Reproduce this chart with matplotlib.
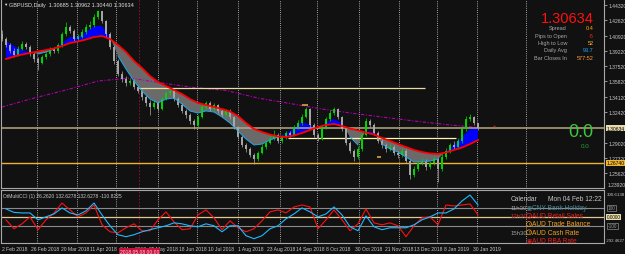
import numpy as np
import matplotlib
matplotlib.use('Agg')
import matplotlib.pyplot as plt
from matplotlib import transforms

plt.rcParams['font.family'] = ['Liberation Sans', 'DejaVu Sans']

# ---------------- data ----------------
# one candle per sample (about two trading days each)
CLOSES = [
    1.4054, 1.3987, 1.3920, 1.3876, 1.3942, 1.3998, 1.3965, 1.3887, 1.3831, 1.3787,
    1.3853, 1.3887, 1.3942, 1.3920, 1.3987, 1.4109, 1.4187, 1.4143, 1.4054, 1.4076,
    1.4132, 1.4187, 1.4209, 1.4299, 1.4365, 1.4254, 1.4109, 1.3965, 1.3809, 1.3664,
    1.3609, 1.3564, 1.3586, 1.3520, 1.3475, 1.3408, 1.3342, 1.3297, 1.3342, 1.3275,
    1.3386, 1.3453, 1.3475, 1.3386, 1.3319, 1.3253, 1.3208, 1.3141, 1.3097, 1.3186,
    1.3297, 1.3342, 1.3275, 1.3319, 1.3253, 1.3208, 1.3253, 1.3186, 1.3074, 1.2963,
    1.2874, 1.2830, 1.2763, 1.2719, 1.2785, 1.2852, 1.2897, 1.2941, 1.2986, 1.2919,
    1.2963, 1.3008, 1.2986, 1.3074, 1.3119, 1.3186, 1.3275, 1.3097, 1.2986, 1.2941,
    1.3074, 1.3164, 1.3230, 1.3275, 1.3186, 1.3052, 1.2897, 1.2808, 1.2741, 1.2830,
    1.2986, 1.3141, 1.3097, 1.3008, 1.2919, 1.2874, 1.2830, 1.2852, 1.2785, 1.2763,
    1.2808, 1.2696, 1.2540, 1.2607, 1.2674, 1.2696, 1.2629, 1.2674, 1.2719, 1.2607,
    1.2741, 1.2808, 1.2874, 1.2852, 1.2919, 1.3052, 1.3164, 1.3186, 1.3119, 1.3063,
]
FIRST_OPEN = 1.4110
HIGHS = [
    1.4150, 1.4080, 1.4010, 1.3950, 1.3975, 1.4035, 1.4025, 1.3985, 1.3905, 1.3850,
    1.3880, 1.3930, 1.3970, 1.3965, 1.4010, 1.4130, 1.4240, 1.4210, 1.4160, 1.4110,
    1.4160, 1.4220, 1.4250, 1.4330, 1.4377, 1.4370, 1.4270, 1.4130, 1.3990, 1.3830,
    1.3700, 1.3640, 1.3620, 1.3610, 1.3545, 1.3500, 1.3430, 1.3370, 1.3380, 1.3365,
    1.3410, 1.3475, 1.3500, 1.3495, 1.3410, 1.3340, 1.3275, 1.3230, 1.3160, 1.3210,
    1.3320, 1.3365, 1.3360, 1.3345, 1.3335, 1.3275, 1.3280, 1.3270, 1.3200, 1.3090,
    1.2980, 1.2900, 1.2850, 1.2790, 1.2810, 1.2880, 1.2930, 1.2980, 1.3040, 1.3005,
    1.2990, 1.3030, 1.3030, 1.3100, 1.3150, 1.3215, 1.3300, 1.3290, 1.3115, 1.3010,
    1.3095, 1.3190, 1.3260, 1.3300, 1.3290, 1.3200, 1.3070, 1.2920, 1.2830, 1.2860,
    1.3010, 1.3175, 1.3160, 1.3115, 1.3030, 1.2940, 1.2900, 1.2880, 1.2870, 1.2810,
    1.2840, 1.2830, 1.2715, 1.2640, 1.2700, 1.2730, 1.2720, 1.2700, 1.2750, 1.2740,
    1.2770, 1.2840, 1.2900, 1.2920, 1.2950, 1.3080, 1.3200, 1.3215, 1.3200, 1.3100,
]
LOWS = [
    1.4030, 1.3960, 1.3895, 1.3850, 1.3860, 1.3930, 1.3945, 1.3870, 1.3800, 1.3710,
    1.3770, 1.3835, 1.3870, 1.3895, 1.3900, 1.3970, 1.4090, 1.4120, 1.4030, 1.4030,
    1.4060, 1.4110, 1.4165, 1.4190, 1.4280, 1.4230, 1.4080, 1.3940, 1.3780, 1.3640,
    1.3580, 1.3530, 1.3540, 1.3495, 1.3450, 1.3380, 1.3310, 1.3205, 1.3270, 1.3250,
    1.3260, 1.3370, 1.3430, 1.3360, 1.3300, 1.3230, 1.3180, 1.3110, 1.3050, 1.3080,
    1.3170, 1.3280, 1.3250, 1.3255, 1.3230, 1.3185, 1.3190, 1.3165, 1.3050, 1.2940,
    1.2850, 1.2800, 1.2740, 1.2660, 1.2700, 1.2770, 1.2835, 1.2880, 1.2925, 1.2900,
    1.2895, 1.2945, 1.2965, 1.2970, 1.3055, 1.3100, 1.3170, 1.3070, 1.2960, 1.2920,
    1.2925, 1.3055, 1.3145, 1.3210, 1.3165, 1.3030, 1.2870, 1.2780, 1.2700, 1.2720,
    1.2810, 1.2970, 1.3075, 1.2985, 1.2895, 1.2840, 1.2800, 1.2810, 1.2760, 1.2730,
    1.2740, 1.2670, 1.2500, 1.2520, 1.2590, 1.2650, 1.2600, 1.2610, 1.2650, 1.2462,
    1.2590, 1.2720, 1.2790, 1.2830, 1.2830, 1.2900, 1.3035, 1.3140, 1.3100, 1.3044,
]

# moving averages, every second sample
SLOW_MA = [
    1.3831, 1.3859, 1.3881, 1.3898, 1.3915, 1.3931, 1.3948, 1.3976, 1.4009, 1.4026,
    1.4048, 1.4076, 1.4087, 1.4054, 1.3987, 1.3909, 1.3809, 1.3731, 1.3642, 1.3575,
    1.3531, 1.3486, 1.3442, 1.3386, 1.3342, 1.3319, 1.3297, 1.3275, 1.3247, 1.3197,
    1.3119, 1.3052, 1.3019, 1.2991, 1.2969, 1.2963, 1.2980, 1.3008, 1.3041, 1.3075,
    1.3097, 1.3108, 1.3086, 1.3058, 1.3036, 1.3013, 1.2991, 1.2952, 1.2919, 1.2885,
    1.2852, 1.2819, 1.2796, 1.2780, 1.2774, 1.2791, 1.2819, 1.2846, 1.2885, 1.2930,
]
FAST_MA = [
    1.4031, 1.3976, 1.3931, 1.3909, 1.3887, 1.3909, 1.3942, 1.4009, 1.4076, 1.4076,
    1.4132, 1.4198, 1.4198, 1.4076, 1.3865, 1.3720, 1.3586, 1.3475, 1.3386, 1.3342,
    1.3386, 1.3397, 1.3330, 1.3253, 1.3230, 1.3253, 1.3241, 1.3186, 1.3119, 1.3030,
    1.2941, 1.2874, 1.2885, 1.2930, 1.2963, 1.2997, 1.3063, 1.3130, 1.3097, 1.3052,
    1.3130, 1.3164, 1.3119, 1.2963, 1.2874, 1.3030, 1.3019, 1.2885, 1.2830, 1.2796,
    1.2741, 1.2685, 1.2685, 1.2696, 1.2718, 1.2807, 1.2874, 1.2963, 1.3052, 1.3075,
]
# long moving average, every eighth sample (+ last bar)
LONG_MA = [1.3297, 1.3397, 1.3486, 1.3586, 1.3620, 1.3564, 1.3514, 1.3481,
           1.3397, 1.3336, 1.3275, 1.3225, 1.3180, 1.3136, 1.3097, 1.3069]

# CCI sub window, every second sample
CCI_BLUE = [
    89, 50, 44, 44, -33, 0, 33, 100, 44, 22,
    67, 155, 22, -100, -200, -222, -200, -167, -144, -122,
    -100, -67, -78, -100, -111, -78, -100, -167, -100, -100,
    -211, -244, -211, -133, -100, -22, 33, 100, 56, 0,
    33, 111, 22, -111, -155, 11, -111, -144, -122, -122,
    -122, -89, -33, 0, 44, 44, 89, 178, 244, 133,
]
CCI_RED = [
    -33, -133, -78, 0, -144, -33, 44, 155, 78, 0,
    44, 133, -89, -167, -178, -122, -78, -155, -155, -33,
    56, -56, -144, -133, 22, 78, -11, -144, -44, -122,
    -167, -133, -44, 56, 78, 44, 111, 133, 111, -133,
    -33, 78, -33, -155, -78, 89, -67, -89, -67, -100,
    -222, -100, -11, 0, -89, 133, 122, 133, 144, 22,
]

BID = 1.30634
LOW_LINE = 1.26740
UPPER_LINE = 1.3509
MID_LINE = 1.2952

PRICE_TICKS = [1.44320, 1.42620, 1.40920, 1.39220, 1.37520, 1.35820,
               1.34120, 1.32420, 1.29020, 1.27320, 1.25620]

DATE_LABELS = ['2 Feb 2018', '26 Feb 2018', '20 Mar 2018', '11 Apr 2018', '3 May 2018',
               '25 May 2018', '18 Jun 2018', '10 Jul 2018', '1 Aug 2018', '23 Aug 2018',
               '14 Sep 2018', '8 Oct 2018', '30 Oct 2018', '21 Nov 2018', '13 Dec 2018',
               '8 Jan 2019', '30 Jan 2019']

INFO_NAMES = ['Spread', 'Pips to Open', 'High to Low', 'Daily Avg', 'Bar Closes In']
INFO_VALUES = ['0.4', '-5', '52', '93.7', '577:52']
INFO_COLORS = ['#ffa500', '#ff2020', '#ffc020', '#1eaaff', '#ffa030']

CAL_TIMES = ['11h30', '12h30', '', '15h30', '']
CAL_EVENTS = ['CNY Bank Holiday', 'AUD Retail Sales', 'AUD Trade Balance',
              'AUD Cash Rate', 'AUD RBA Rate']
CAL_COLORS = ['#4f8898', '#e82020', '#f0a020', '#f0a020', '#e82020']
CAL_ICONS = ['\u25a3', '!', '!', '!', '\u25a3']

# ---------------- layout ----------------
BG = '#111111'
FG = '#c8c8c8'
FRAME = '#a8a8a8'

k = np.arange(len(CLOSES))
k_ma = np.arange(1, len(CLOSES), 2)
k_long = np.append(np.arange(0, 120, 8), 119)
grid_k = [8.75, 18.75, 28.5, 39, 48.75, 59, 69.5, 78.75, 89.25, 99.25, 108.75, 118.75, 131]
date_k = np.arange(len(DATE_LABELS)) * 7.36
cross_k = 34.25

fig = plt.figure(figsize=(6.25, 2.55), dpi=100, facecolor=BG)
ax = fig.add_axes([1.5 / 625, 66 / 255, 602.5 / 625, 189 / 255], facecolor=BG)
sub = fig.add_axes([1.5 / 625, 11 / 255, 602.5 / 625, 53 / 255], facecolor=BG)

for a in (ax, sub):
    a.set_xlim(-0.125, 150.5)
    for s in a.spines.values():
        s.set_color(FRAME)
        s.set_linewidth(0.8)
    for g in grid_k:
        a.axvline(g, color='#d8d8d8', lw=0.6, ls=(0, (1, 1.6)), zorder=1)
    a.axvline(cross_k, color='#a01030', lw=0.6, ls=(0, (2, 2)), zorder=1)
ax.spines['top'].set_visible(False)

# ---------------- main price window ----------------
ax.set_ylim(1.23958, 1.44988)
closes = np.array(CLOSES)
opens = np.concatenate([[FIRST_OPEN], closes[:-1]])
highs = np.array(HIGHS)
lows = np.array(LOWS)
up = closes >= opens
slow = np.array(SLOW_MA)
fast = np.array(FAST_MA)

ax.fill_between(k_ma, slow, fast, where=fast >= slow, interpolate=True,
                color='#0000ff', lw=0, zorder=2)
ax.fill_between(k_ma, slow, fast, where=fast < slow, interpolate=True,
                color='#6a6a6a', lw=0, zorder=2)
ax.plot(k_long, LONG_MA, color='#b000b0', lw=0.8, ls=(0, (3, 1.5, 1, 1.5)), zorder=2)

ax.axhline(BID, color='#b8a880', lw=1.1, zorder=2)
ax.axhline(LOW_LINE, color='#f0b030', lw=1.0, zorder=2)
ax.hlines(UPPER_LINE, 34, 105.75, color='#e8dca0', lw=0.9, zorder=2)
ax.hlines(MID_LINE, 71.5, 113.5, color='#fff4b0', lw=0.9, zorder=2)

for mask, col in ((up, '#00d800'), (~up, '#a8a8a8')):
    ax.vlines(k[mask], lows[mask], highs[mask], color=col, lw=0.5, zorder=3)
    ax.vlines(k[mask], opens[mask], closes[mask], color=col, lw=1.4, zorder=3)

fast_vis = np.where(fast <= slow + 0.0004, fast, np.nan)
ax.plot(k_ma, fast_vis, color='#1ea8e8', lw=0.7, zorder=4)
ax.plot(k_ma, slow, color='#ff0000', lw=1.3, zorder=5)

ax.plot([75.75], [1.3319], marker='_', ms=4, mew=1.2, color='#e0a040', zorder=6)
ax.plot([94.25], [1.2741], marker='_', ms=3, mew=1.2, color='#e0a040', zorder=6)
ax.plot([123], [1.3086], marker='_', ms=2, mew=1.0, color='#c02020', zorder=6)

ax.set_xticks([])
ax.yaxis.tick_right()
ax.set_yticks(PRICE_TICKS)
ax.set_yticklabels(['%.5f' % p for p in PRICE_TICKS])
ax.tick_params(axis='y', length=2, width=0.5, colors=FG, labelsize=3.6, pad=1)

yt = transforms.blended_transform_factory(ax.transAxes, ax.transData)
ax.text(1.004, BID, '%.5f' % BID, transform=yt, ha='left', va='center', fontsize=3.6,
        color='#000000', bbox=dict(boxstyle='square,pad=0.15', fc='#e8dcaa', ec='none'))
ax.text(1.004, LOW_LINE, '%.5f' % LOW_LINE, transform=yt, ha='left', va='center',
        fontsize=3.6, color='#000000',
        bbox=dict(boxstyle='square,pad=0.15', fc='#f0b830', ec='none'))
ax.text(1.006, 0.004, '1.23920', transform=ax.transAxes, ha='left', va='bottom',
        fontsize=3.6, color=FG)

ax.text(0.003, 0.9735, '\u25bc', transform=ax.transAxes, ha='left', va='center',
        fontsize=3.2, color='#e0e0e0')
ax.text(0.0124, 0.9735, 'GBPUSD,Daily  1.30685 1.30962 1.30440 1.30634',
        transform=ax.transAxes, ha='left', va='center', fontsize=4, color='#e0e0e0')

ax.text(0.9834, 0.8995, '%.5f' % BID, transform=ax.transAxes, ha='right', va='center',
        fontsize=10.5, color='#ff1010')
info_y = [0.8466, 0.8095, 0.7709, 0.7317, 0.6915]
for name, val, col, y in zip(INFO_NAMES, INFO_VALUES, INFO_COLORS, info_y):
    ax.text(0.9386, y, name, transform=ax.transAxes, ha='right', va='center',
            fontsize=4, color='#a8a8a8')
    ax.text(0.9834, y, val, transform=ax.transAxes, ha='right', va='center',
            fontsize=4, color=col)

ax.text(0.9817, 0.2963, '0.0', transform=ax.transAxes, ha='right', va='center',
        fontsize=13, color='#3cc83c')
ax.text(0.9693, 0.2275, '0.0', transform=ax.transAxes, ha='center', va='center',
        fontsize=4.5, color='#2ea02e')

# ---------------- CCI sub window ----------------
sub.set_ylim(-292.4627, 300.6138)
sub.axhline(100, color='#8a8a8a', lw=0.8, zorder=2)
sub.axhline(-100, color='#8a8a8a', lw=0.8, zorder=2)
sub.axhline(0, color='#e0c890', lw=0.9, zorder=2)
sub.plot(k_ma, CCI_RED, color='#ff1010', lw=0.8, zorder=3)
sub.plot(k_ma, CCI_BLUE, color='#20b8ff', lw=0.8, zorder=4)

sub.set_yticks([])
sub.set_xticks(date_k)
sub.set_xticklabels(DATE_LABELS, ha='left')
sub.tick_params(axis='x', length=0, pad=2.2, colors=FG, labelsize=3.6)

st = transforms.blended_transform_factory(sub.transAxes, sub.transData)
sub.text(1.004, 0.97, '300.6138', transform=sub.transAxes, ha='left', va='top',
         fontsize=3.2, color=FG)
sub.text(1.003, 0.02, '-292.4627', transform=sub.transAxes, ha='left', va='bottom',
         fontsize=3.1, color=FG)
for lvl in (100, -100):
    sub.text(1.006, lvl, str(lvl), transform=st, ha='left', va='center', fontsize=3.4,
             color='#9a9a9a',
             bbox=dict(boxstyle='square,pad=0.15', fc=BG, ec='#8a8a8a', lw=0.5))
sub.text(1.004, 0, '0.0000', transform=st, ha='left', va='center', fontsize=3.4,
         color='#000000', bbox=dict(boxstyle='square,pad=0.15', fc='#e8dcaa', ec='none'))
sub.text(0.0025, 0.94, 'OtMultiCCI (1) 26.2620 132.6278 132.6278 -110.8225',
         transform=sub.transAxes, ha='left', va='top', fontsize=3.6, color=FG)

dt = transforms.blended_transform_factory(sub.transData, sub.transAxes)
sub.text(cross_k + 0.15, -0.105, '2018.05.08 00:00', transform=dt, ha='center', va='top',
         fontsize=3.6, color='#ffd8d8', zorder=10, clip_on=False,
         bbox=dict(boxstyle='square,pad=0.2', fc='#c8103c', ec='none'))

# ---------------- calendar panel ----------------
fig.text(511 / 625, 1 - 200 / 255, 'Calendar', ha='left', va='center',
         fontsize=4.8, color=FG)
fig.text(602 / 625, 1 - 200 / 255, 'Mon 04 Feb 12:22', ha='right', va='center',
         fontsize=4.8, color=FG)
cal_y = [208.3, 216.7, 225.0, 233.3, 241.7]
for t, ev, col, icon, y in zip(CAL_TIMES, CAL_EVENTS, CAL_COLORS, CAL_ICONS, cal_y):
    yy = 1 - y / 255
    if t:
        fig.text(510.5 / 625, yy, t, ha='left', va='center', fontsize=4.3,
                 color='#a0a0a0' if t != '12h30' else '#c83030')
    if icon == '!':
        fig.text(529 / 625, yy, icon, ha='center', va='center', fontsize=3.2,
                 color=col, weight='bold',
                 bbox=dict(boxstyle='circle,pad=0.1', fc='none', ec=col, lw=0.5))
    else:
        fig.text(529 / 625, yy, icon, ha='center', va='center', fontsize=3.8,
                 color=col, family=['DejaVu Sans'])
    fig.text(532.5 / 625, yy, ev, ha='left', va='center', fontsize=4.8, color=col)

fig.savefig('out.png', dpi=100, facecolor=BG)
